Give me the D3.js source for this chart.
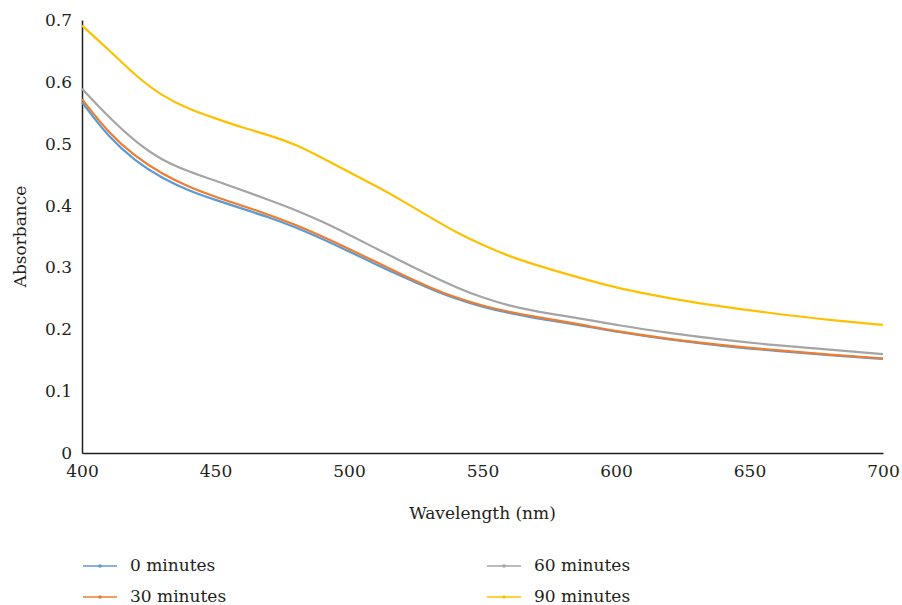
<!DOCTYPE html>
<html>
<head>
<meta charset="utf-8">
<script src="https://cdn.jsdelivr.net/npm/d3@7"></script>
<style>
  body { margin: 0; background: #fff; }
</style>
</head>
<body>
<svg id="chart" width="902" height="605"></svg>
<script>
// wavelength grid (nm)
const wavelengths = [400, 410, 420, 430, 440, 450, 460, 470, 480, 490, 500, 510, 520, 530, 540, 550,
  560, 570, 580, 590, 600, 620, 640, 660, 680, 700];

const min0 = [0.567, 0.510, 0.472, 0.444, 0.424, 0.409, 0.395, 0.381, 0.365, 0.346, 0.326, 0.305, 0.285,
  0.266, 0.249, 0.236, 0.226, 0.218, 0.211, 0.204, 0.196, 0.183, 0.173, 0.165, 0.158, 0.152];
const min30 = [0.572, 0.517, 0.479, 0.451, 0.430, 0.414, 0.400, 0.385, 0.369, 0.350, 0.330, 0.309, 0.288,
  0.268, 0.251, 0.238, 0.228, 0.220, 0.213, 0.205, 0.197, 0.184, 0.174, 0.166, 0.159, 0.153];
const min60 = [0.589, 0.543, 0.503, 0.473, 0.455, 0.440, 0.425, 0.409, 0.393, 0.374, 0.353, 0.331, 0.309,
  0.288, 0.268, 0.251, 0.238, 0.229, 0.222, 0.215, 0.207, 0.194, 0.183, 0.174, 0.167, 0.160];
const min90 = [0.691, 0.652, 0.610, 0.577, 0.556, 0.541, 0.526, 0.514, 0.499, 0.477, 0.454, 0.432, 0.408,
  0.382, 0.357, 0.336, 0.318, 0.304, 0.291, 0.279, 0.267, 0.250, 0.236, 0.225, 0.215, 0.207];

const seriesNames = ["0 minutes", "30 minutes", "60 minutes", "90 minutes"];
const seriesColors = ["#5b9bd5", "#ed7d31", "#a5a5a5", "#ffc000"];
const xTicks = [400, 450, 500, 550, 600, 650, 700];
const yTicks = [0, 0.1, 0.2, 0.3, 0.4, 0.5, 0.6, 0.7];

const series = [min0, min30, min60, min90].map((vals, i) => ({
  name: seriesNames[i],
  color: seriesColors[i],
  values: vals.map((v, j) => ({ x: wavelengths[j], y: v }))
}));

const FONT = '"DejaVu Serif", "Liberation Serif", serif';
const FS = 17;
const TXT = "#231f20";

const svg = d3.select("#chart");
const margin = { top: 20, right: 19, bottom: 152, left: 82 };
const width = 902 - margin.left - margin.right;
const height = 605 - margin.top - margin.bottom;

const g = svg.append("g").attr("transform", `translate(${margin.left},${margin.top})`);

const x = d3.scaleLinear().domain([400, 700]).range([0, width]);
const y = d3.scaleLinear().domain([0, 0.7]).range([height, 0]);

// axes: no tick marks, only labels
const xAxis = g.append("g")
  .attr("transform", `translate(0,${height})`)
  .call(d3.axisBottom(x).tickValues(xTicks).tickSize(0).tickPadding(12).tickFormat(d3.format("d")));
xAxis.select(".domain").attr("stroke", TXT).attr("stroke-width", 1.5);
xAxis.selectAll("text").attr("font-family", FONT).attr("font-size", FS).attr("fill", TXT);

const yAxis = g.append("g")
  .call(d3.axisLeft(y).tickValues(yTicks).tickSize(0).tickPadding(10)
    .tickFormat(d => d === 0 ? "0" : d3.format(".1f")(d)));
yAxis.select(".domain").attr("stroke", TXT).attr("stroke-width", 1.5);
yAxis.selectAll("text").attr("font-family", FONT).attr("font-size", FS).attr("fill", TXT);

// curves
const line = d3.line()
  .x(d => x(d.x))
  .y(d => y(d.y))
  .curve(d3.curveBasis);

g.selectAll("path.series")
  .data(series)
  .join("path")
  .attr("class", "series")
  .attr("fill", "none")
  .attr("stroke", d => d.color)
  .attr("stroke-width", 2.2)
  .attr("d", d => line(d.values));

// axis titles
svg.append("text")
  .attr("x", margin.left + width / 2)
  .attr("y", 519)
  .attr("text-anchor", "middle")
  .attr("font-family", FONT).attr("font-size", FS).attr("fill", TXT)
  .text("Wavelength (nm)");

svg.append("text")
  .attr("transform", `translate(26,${margin.top + height / 2}) rotate(-90)`)
  .attr("text-anchor", "middle")
  .attr("font-family", FONT).attr("font-size", FS).attr("fill", TXT)
  .text("Absorbance");

// legend
const legendPos = [[83, 566], [83, 597], [487, 566], [487, 597]];
const legend = svg.selectAll("g.legend")
  .data(series)
  .join("g")
  .attr("class", "legend")
  .attr("transform", (d, i) => `translate(${legendPos[i][0]},${legendPos[i][1]})`);

legend.append("line")
  .attr("x1", 0).attr("x2", 34)
  .attr("stroke", d => d.color)
  .attr("stroke-width", 1.6);
legend.append("circle")
  .attr("cx", 17).attr("r", 1.8)
  .attr("fill", d => d.color);
legend.append("text")
  .attr("x", 47)
  .attr("dy", "0.3em")
  .attr("font-family", FONT).attr("font-size", FS).attr("fill", TXT)
  .text(d => d.name);
</script>
</body>
</html>
